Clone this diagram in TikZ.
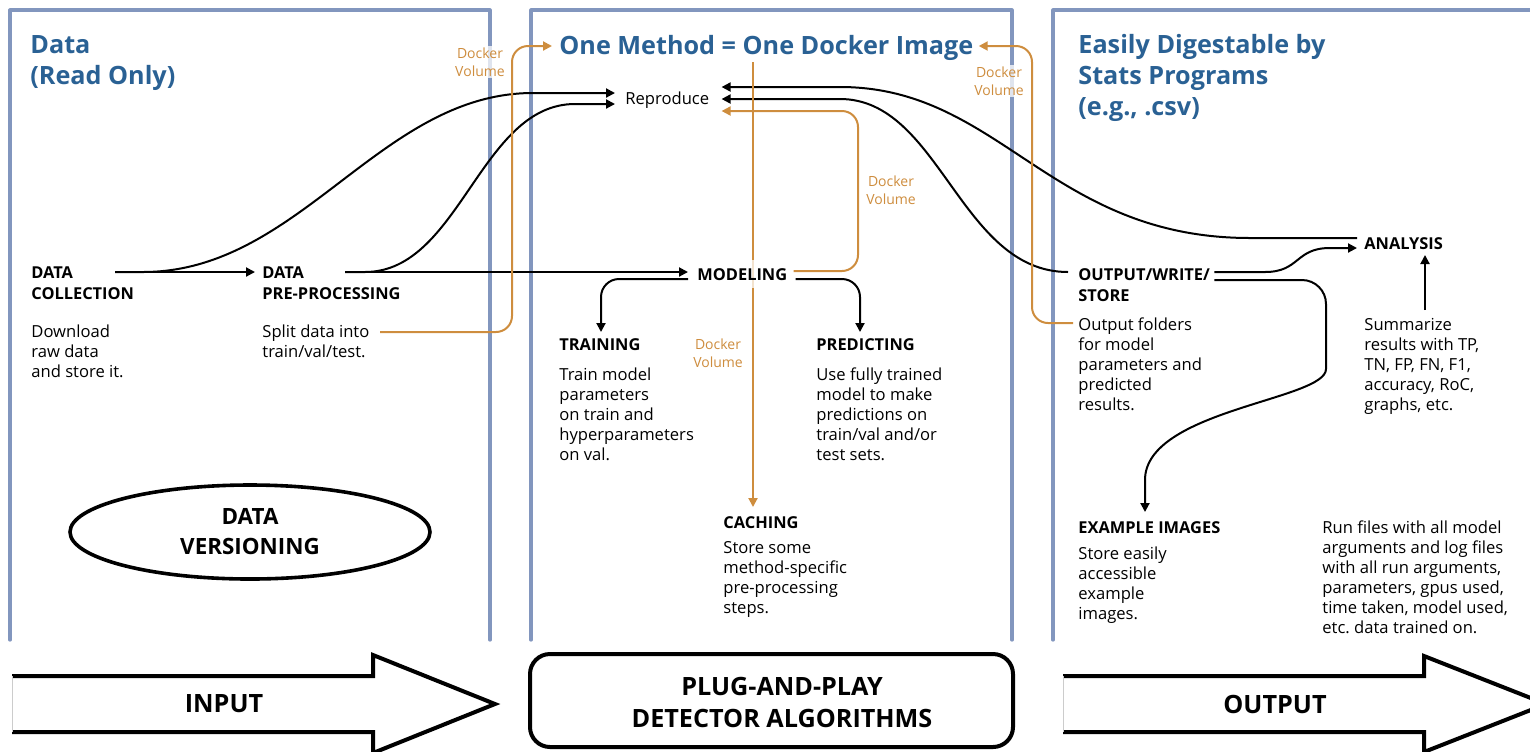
\documentclass[tikz,border=0pt]{standalone}
\usepackage{fontspec}
\setmainfont{Open Sans}
\usetikzlibrary{calc,arrows.meta,shapes.geometric}
\definecolor{ttlblue}{RGB}{42,97,148}
\definecolor{framegray}{RGB}{130,150,190}
\definecolor{dockorange}{RGB}{206,141,62}
\pgfdeclarelayer{back}
\pgfsetlayers{back,main}
\frenchspacing

\begin{document}
\begin{tikzpicture}[x=0.5pt,y=-0.5pt,
  panel/.style={draw=framegray, line width=1.6pt, line join=round, line cap=round},
  ttl/.style={anchor=base west, inner sep=0, align=left, text=ttlblue, font=\bfseries\fontsize{12.6}{15.5}\selectfont},
  hdr/.style={anchor=base west, inner sep=0, align=left, font=\bfseries\fontsize{8.2}{10.5}\selectfont},
  desc/.style={anchor=base west, inner sep=0, align=left, font=\fontsize{8.3}{10}\selectfont},
  vol/.style={align=center, inner sep=1pt, text=dockorange, fill=white, fill opacity=0.75, text opacity=1, font=\fontsize{7}{9}\selectfont},
  conn/.style={line width=1pt, -{Triangle[length=4.5pt,width=4.5pt]}},
  dconn/.style={conn, draw=dockorange, rounded corners=8pt},
  big/.style={align=center, font=\bfseries\fontsize{12.6}{16}\selectfont},
  bigarrow/.style={draw, line width=2pt, line join=miter}]
\useasboundingbox (0,0) rectangle (1530,751);

% titles (placed at the baseline of their last line)
\node (ttlL) [ttl] at (30,84) {Data\\(Read Only)};
\node (ttlM) [ttl] at (559,54) {One Method = One Docker Image};
\node (ttlR) [ttl] at (1078,115) {Easily Digestable by\\Stats Programs\\(e.g., .csv)};

% input panel
\node (coll) [hdr] at (31,299) {DATA\\COLLECTION};
\node (collD) [desc] at (31,377) {Download\\raw data\\and store it.};
\node (prep) [hdr] at (262,299) {DATA\\PRE-PROCESSING};
\node (prepD) [desc] at (262,357) {Split data into\\train/val/test.};
\node (dver) [ellipse, draw, line width=1.8pt, minimum width=180pt, minimum height=47pt, inner sep=0,
  align=center, font=\bfseries\fontsize{11.2}{15}\selectfont] at (250,532) {DATA\\VERSIONING};

% method panel
\node (repro) [desc] at (625,104) {Reproduce};
\node (model) [hdr, inner xsep=0, inner ysep=4pt, fill=white, fill opacity=0.75, text opacity=1] at (697,280) {MODELING};
\node (train) [hdr] at (559,350) {TRAINING};
\node (trainD) [desc] at (559,460) {Train model\\parameters\\on train and\\hyperparameters\\on val.};
\node (pred) [hdr] at (816,350) {PREDICTING};
\node (predD) [desc] at (816,460) {Use fully trained\\model to make\\predictions on\\train/val and/or\\test sets.};
\node (cache) [hdr] at (723,528) {CACHING};
\node (cacheD) [desc] at (723,613) {Store some\\method-specific\\pre-processing\\steps.};

% output panel
\node (store) [hdr] at (1078,301) {OUTPUT/WRITE/\\STORE};
\node (storeD) [desc] at (1078,410) {Output folders\\for model\\parameters and\\predicted\\results.};
\node (anal) [hdr] at (1364,249) {ANALYSIS};
\node (analD) [desc] at (1364,410) {Summarize\\results with TP,\\TN, FP, FN, F1,\\accuracy, RoC,\\graphs, etc.};
\node (exim) [hdr] at (1078,533) {EXAMPLE IMAGES};
\node (eximD) [desc] at (1078,619) {Store easily\\accessible\\example\\images.};
\node (runD) [desc] at (1322,633) {Run files with all model\\arguments and log files\\with all run arguments,\\parameters, gpus used,\\time taken, model used,\\etc. data trained on.};

% docker volumes
\node (dv1) [vol] at (480,62) {Docker\\Volume};
\node (dv2) [vol] at (999,81) {Docker\\Volume};
\node (dv3) [vol] at (891,190) {Docker\\Volume};
\node (dv4) [vol] at (718,353) {Docker\\Volume};

% bottom bar
\node (inp) [big] at (224,704) {INPUT};
\node (plug) [draw, line width=2pt, rounded corners=10pt, minimum width=241.5pt, minimum height=46.5pt] at (771.5,700.5) {};
\node (plugT) [big] at (782,702) {PLUG-AND-PLAY\\DETECTOR ALGORITHMS};
\node (outp) [big] at (1275,704) {OUTPUT};

\begin{pgfonlayer}{back}
\draw[panel] (10,640) -- (10,10) -- (490,10) -- (490,640);
\draw[panel] (531,640) -- (531,10) -- (1012,10) -- (1012,640);
\draw[panel] (1053,640) -- (1053,10) -- (1545,10);

\draw[bigarrow] (12,676) -- (373,676) -- (373,655) -- (495,704) -- (373,753) -- (373,732) -- (12,732);
\draw[gray!40, line width=0.4pt] (12,676) -- (12,732);
\draw[bigarrow] (1063,676) -- (1424,676) -- (1424,656) -- (1546,704) -- (1424,752) -- (1424,732) -- (1063,732);
\draw[gray!40, line width=0.4pt] (1063,676) -- (1063,732);

% black flow
\draw[conn] ($(coll.base west)+(84,-27)$) -- ($(prep.base west)+(-7,-27)$);
\draw[conn] ($(coll.base west)+(84,-27)$) -- (143,272) .. controls (300,272) and (380,93) .. (533,93) -- ($(repro.base west)+(-10,-11)$);
\draw[conn] ($(prep.base west)+(83,-27)$) -- ($(model.base west)+(-9,-8)$);
\draw[conn] ($(prep.base west)+(83,-27)$) -- (365,272) .. controls (460,272) and (480,104) .. (575,104) -- ($(repro.base west)+(-10,0)$);
\draw[conn, rounded corners=9pt] ($(model.base west)+(-9,-1)$) -- (601,279) -- ($(train.base west)+(42,-18)$);
\draw[conn, rounded corners=9pt] ($(model.base east)+(8,-1)$) -- (860,279) -- ($(pred.base west)+(44,-18)$);
\draw[conn] ($(anal.base west)+(-7,-11)$) -- (1250,238) .. controls (1050,238) and (1000,87) .. (840,87) -- ($(repro.base east)+(12,-17)$);
\draw[conn] ($(store.base west)+(-10,-29)$) .. controls (960,272) and (940,99) .. (840,99) -- ($(repro.base east)+(12,-5)$);
\draw[conn] ($(store.base east)+(4,-29)$) -- (1265,272) .. controls (1300,272) and (1295,248) .. (1330,248) -- ($(anal.base west)+(-7,-1)$);
\draw[conn] ($(store.base east)+(4,-21)$) [rounded corners=12pt] -- (1326,280) -- (1326,345) [sharp corners] .. controls (1326,400) and (1145,410) .. (1145,480) -- ($(exim.base west)+(67,-21)$);
\draw[conn] ($(analD.base west)+(61,-100)$) -- ($(anal.base west)+(61,6)$);

% docker volume flow
\draw[dconn] ($(prepD.base west)+(118,-25)$) -- (512,332) -- (512,46) -- ($(ttlM.base west)+(-7,-8)$);
\draw[dconn] ($(storeD.base west)+(-5,-87)$) -- (1032,323) -- (1032,46) -- ($(ttlM.base east)+(5,-8)$);
\draw[dconn] ($(model.base east)+(6,-9)$) -- (858,271) -- (858,111) -- ($(repro.base east)+(12,7)$);
\draw[dconn] ($(ttlM.base west)+(194,8)$) -- ($(cache.base west)+(30,-21)$);
\end{pgfonlayer}

\end{tikzpicture}
\end{document}
